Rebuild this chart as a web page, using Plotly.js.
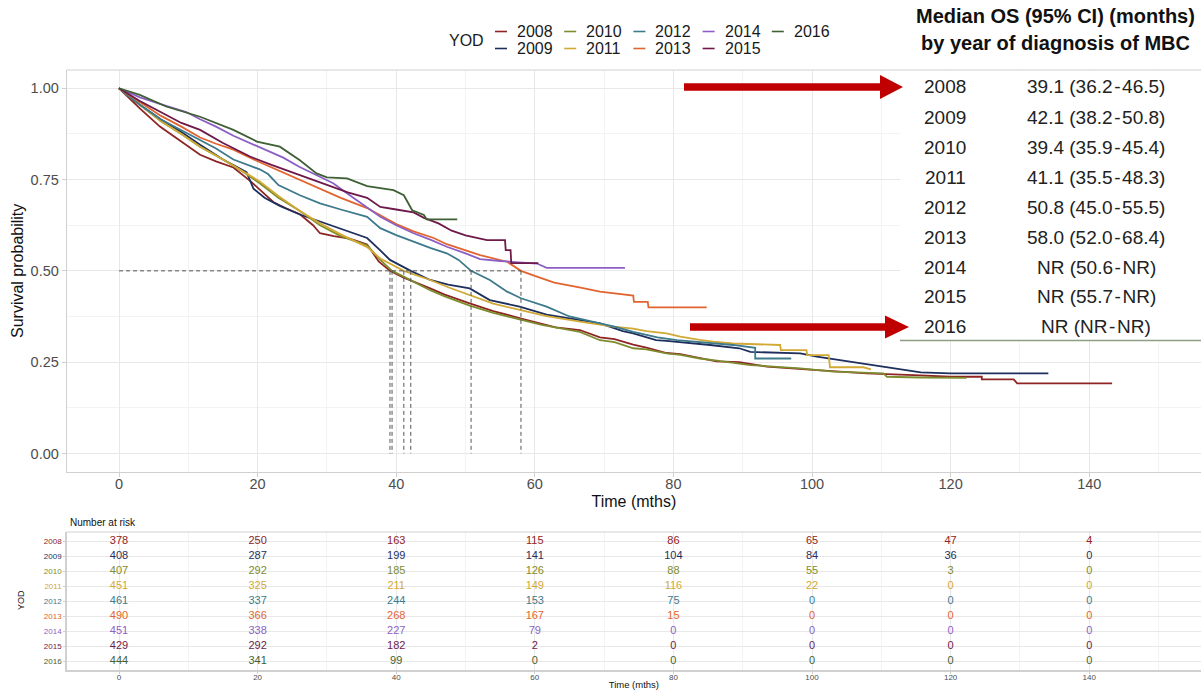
<!DOCTYPE html>
<html>
<head>
<meta charset="utf-8">
<script src="https://cdn.plot.ly/plotly-3.0.1.min.js"></script>
<style>
  html, body { margin: 0; padding: 0; background: #fff; overflow: hidden; }
  #chart { width: 1201px; height: 690px; }
</style>
</head>
<body>
<div id="chart"></div>
<script>
// ---- Kaplan-Meier overall survival by year of diagnosis (YOD) ----
const years = ['2008', '2009', '2010', '2011', '2012', '2013', '2014', '2015', '2016'];
const colors = ['#8e2424', '#1e2f5e', '#7d8c2c', '#d2a935', '#3d7a8c', '#e2652f', '#8c5fc4', '#6d1a4b', '#3f6034'];

// survival curves: time (months) and survival probability
const t2008 = [0, 3, 5.9, 8.5, 11.7, 14, 16.5, 19, 20.3, 22.3, 24, 26.1, 28, 29, 31, 33.3, 35.8, 37.5, 39.1, 41, 44.9, 47, 50.6, 54, 57.9, 60.7, 63, 66.5, 69.4, 71.5, 74.2, 76.1, 79, 81, 86.2, 89.5, 93.5, 100.7, 107.9, 115.6, 119.9, 124.5, 124.5, 129.1, 129.6, 143.3];
const s2008 = [1, 0.945, 0.895, 0.86, 0.818, 0.8, 0.783, 0.745, 0.722, 0.688, 0.672, 0.655, 0.625, 0.603, 0.595, 0.588, 0.572, 0.525, 0.5, 0.482, 0.452, 0.435, 0.411, 0.39, 0.37, 0.356, 0.345, 0.338, 0.318, 0.313, 0.298, 0.29, 0.275, 0.272, 0.252, 0.25, 0.238, 0.228, 0.219, 0.214, 0.21, 0.21, 0.203, 0.203, 0.192, 0.192];

const t2009 = [0, 3, 6, 9, 11.7, 15, 18.4, 19.4, 21, 23.2, 26, 28.5, 32, 35.8, 37.7, 39.1, 42.1, 44.9, 47.5, 50.6, 53.5, 57.8, 61.7, 65, 69.4, 72.7, 74.2, 77.5, 79, 85.3, 89.5, 91.1, 98.3, 100.7, 105.5, 110.3, 114.1, 115.7, 119.9, 134.1];
const s2009 = [1, 0.955, 0.915, 0.88, 0.845, 0.805, 0.77, 0.725, 0.7, 0.678, 0.655, 0.638, 0.615, 0.59, 0.556, 0.53, 0.5, 0.475, 0.462, 0.452, 0.42, 0.402, 0.38, 0.37, 0.356, 0.335, 0.329, 0.31, 0.308, 0.297, 0.288, 0.278, 0.274, 0.265, 0.251, 0.237, 0.228, 0.222, 0.219, 0.219];

const t2010 = [0, 3, 6, 9, 11.7, 15, 18, 20.3, 23, 26, 29, 32, 35.8, 37.7, 39.4, 41, 44.9, 47, 50.6, 54, 57.8, 61, 66.5, 69.4, 71.5, 74.2, 76.1, 79, 81, 83.8, 86, 91.1, 98.3, 103.1, 110.3, 110.8, 115.6, 122.3];
const s2010 = [1, 0.955, 0.91, 0.875, 0.84, 0.805, 0.77, 0.74, 0.7, 0.665, 0.625, 0.595, 0.57, 0.53, 0.5, 0.485, 0.447, 0.43, 0.405, 0.385, 0.366, 0.352, 0.333, 0.31, 0.305, 0.288, 0.285, 0.274, 0.27, 0.26, 0.255, 0.242, 0.233, 0.224, 0.219, 0.21, 0.208, 0.207];

const t2011 = [0, 3, 6, 9, 11.7, 15, 18, 20.3, 23, 26, 29, 32, 35.8, 37.7, 41.1, 44.9, 47.5, 50.6, 54, 57.8, 61.7, 66.5, 69.4, 71.3, 74.2, 76.1, 79, 81, 83.8, 85.7, 88.6, 95.4, 95.5, 99.2, 99.3, 102.4, 102.6, 107.4, 108.5];
const s2011 = [1, 0.955, 0.91, 0.875, 0.84, 0.805, 0.77, 0.745, 0.705, 0.665, 0.63, 0.6, 0.565, 0.534, 0.5, 0.475, 0.455, 0.434, 0.41, 0.393, 0.376, 0.361, 0.352, 0.347, 0.342, 0.335, 0.329, 0.32, 0.311, 0.306, 0.301, 0.297, 0.283, 0.283, 0.269, 0.269, 0.236, 0.236, 0.23];

const t2012 = [0, 3, 6, 9, 11.7, 14, 16.5, 18.5, 20.3, 21.5, 23, 26.1, 29, 32, 35.8, 37.7, 40, 42.5, 45, 47.3, 49, 50.8, 53.5, 56, 58, 61.7, 65, 69.4, 71.5, 74.2, 77.7, 80.5, 83.5, 88.6, 91.8, 91.8, 97];
const s2012 = [1, 0.955, 0.915, 0.885, 0.86, 0.835, 0.805, 0.79, 0.778, 0.765, 0.735, 0.707, 0.685, 0.668, 0.648, 0.617, 0.598, 0.58, 0.562, 0.548, 0.53, 0.5, 0.475, 0.443, 0.425, 0.402, 0.375, 0.356, 0.347, 0.333, 0.318, 0.31, 0.305, 0.297, 0.289, 0.26, 0.26];

const t2013 = [0, 3, 6, 9, 11.7, 14, 16.5, 20, 23, 26, 29, 32, 35.8, 38, 40, 42.5, 45.4, 47.3, 50, 52.1, 56, 58, 60, 62.8, 66.6, 69.4, 74.2, 74.3, 76.3, 76.4, 84.8];
const s2013 = [1, 0.962, 0.925, 0.895, 0.865, 0.848, 0.832, 0.8, 0.775, 0.75, 0.725, 0.7, 0.672, 0.648, 0.628, 0.608, 0.59, 0.573, 0.555, 0.543, 0.525, 0.5, 0.486, 0.468, 0.454, 0.443, 0.432, 0.415, 0.415, 0.4, 0.4];

const t2014 = [0, 3, 6.8, 9.7, 11.7, 14, 16.5, 20, 23.7, 26, 28.5, 30.9, 33.8, 36.7, 37.7, 40, 42.5, 45, 47.3, 50, 52.1, 55, 56.4, 60.3, 61.7, 73];
const s2014 = [1, 0.975, 0.952, 0.935, 0.915, 0.895, 0.87, 0.84, 0.81, 0.785, 0.762, 0.74, 0.7, 0.66, 0.648, 0.625, 0.603, 0.585, 0.566, 0.548, 0.532, 0.527, 0.525, 0.52, 0.508, 0.508];

const t2015 = [0, 3, 6, 9, 11.7, 15, 18.9, 22, 26.1, 28.5, 30.9, 33, 35.8, 37.7, 40, 42.5, 44, 46.1, 48, 50, 53.1, 55.7, 55.8, 56.5, 56.6, 60.5];
const s2015 = [1, 0.965, 0.935, 0.905, 0.886, 0.85, 0.813, 0.79, 0.762, 0.745, 0.73, 0.715, 0.7, 0.675, 0.668, 0.66, 0.645, 0.63, 0.61, 0.597, 0.584, 0.584, 0.557, 0.557, 0.521, 0.521];

const t2016 = [0, 3, 6.8, 11.7, 16.5, 19.9, 23.2, 26.1, 28.5, 30, 32.9, 35.8, 39.6, 41.1, 42.3, 44, 44.4, 48.8];
const s2016 = [1, 0.982, 0.95, 0.922, 0.886, 0.854, 0.84, 0.803, 0.767, 0.756, 0.753, 0.732, 0.721, 0.707, 0.666, 0.653, 0.641, 0.641];

const curveTimes = [t2008, t2009, t2010, t2011, t2012, t2013, t2014, t2015, t2016];
const curveSurv = [s2008, s2009, s2010, s2011, s2012, s2013, s2014, s2015, s2016];

// median OS (95% CI) in months; null = not reached
const medianOS = [39.1, 42.1, 39.4, 41.1, 50.8, 58.0, null, null, null];
const ciLower = [36.2, 38.2, 35.9, 35.5, 45.0, 52.0, 50.6, 55.7, null];
const ciUpper = [46.5, 50.8, 45.4, 48.3, 55.5, 68.4, null, null, null];

// number at risk
const riskTimes = [0, 20, 40, 60, 80, 100, 120, 140];
const risk2008 = [378, 250, 163, 115, 86, 65, 47, 4];
const risk2009 = [408, 287, 199, 141, 104, 84, 36, 0];
const risk2010 = [407, 292, 185, 126, 88, 55, 3, 0];
const risk2011 = [451, 325, 211, 149, 116, 22, 0, 0];
const risk2012 = [461, 337, 244, 153, 75, 0, 0, 0];
const risk2013 = [490, 366, 268, 167, 15, 0, 0, 0];
const risk2014 = [451, 338, 227, 79, 0, 0, 0, 0];
const risk2015 = [429, 292, 182, 2, 0, 0, 0, 0];
const risk2016 = [444, 341, 99, 0, 0, 0, 0, 0];
const riskCounts = [risk2008, risk2009, risk2010, risk2011, risk2012, risk2013, risk2014, risk2015, risk2016];

// ---- page geometry (pixels) ----
const W = 1201, H = 690;
const fx = x => x / W;          // pixel x -> paper
const fy = y => 1 - y / H;      // pixel y -> paper
const FONT = 'Liberation Sans, Arial, Helvetica, sans-serif';
const panelLeft = 66.7;
const mainTop = 70, mainBottom = 471.7;
const riskTop = 532, riskBottom = 670;
const xRange = [-7.55, -7.55 + (W - panelLeft) / 6.93];

const traces = [];

// survival curves
years.forEach((yr, i) => {
  traces.push({
    type: 'scatter', mode: 'lines', name: yr,
    x: curveTimes[i], y: curveSurv[i],
    line: { color: colors[i], width: 1.8 },
    xaxis: 'x', yaxis: 'y', hoverinfo: 'skip', showlegend: false
  });
});

// median reference lines
const reached = medianOS.filter(v => v !== null);
const medX = [0, Math.max(...reached), null];
const medY = [0.5, 0.5, null];
reached.forEach(m => { medX.push(m, m, null); medY.push(0.5, 0, null); });
traces.push({
  type: 'scatter', mode: 'lines', x: medX, y: medY,
  line: { color: '#555555', width: 1, dash: '4px,3px' },
  xaxis: 'x', yaxis: 'y', hoverinfo: 'skip', showlegend: false
});

// number-at-risk table
years.forEach((yr, i) => {
  traces.push({
    type: 'scatter', mode: 'text',
    x: riskTimes, y: riskTimes.map(() => yr),
    text: riskCounts[i].map(String),
    textposition: 'middle center',
    textfont: { family: FONT, size: 11, color: colors[i] },
    xaxis: 'x2', yaxis: 'y2', hoverinfo: 'skip', showlegend: false
  });
});

// ---- shapes ----
const shapes = [];
// panel top borders
[mainTop, riskTop].forEach(y => shapes.push({
  type: 'line', xref: 'paper', yref: 'paper', x0: fx(panelLeft), x1: 1, y0: fy(y), y1: fy(y),
  line: { color: '#d0d0d0', width: 1 }
}));
// white backing for the median table
shapes.push({
  type: 'rect', xref: 'paper', yref: 'paper', x0: fx(900), x1: 1, y0: fy(340.5), y1: fy(71),
  fillcolor: '#ffffff', line: { width: 0 }, layer: 'above'
});
shapes.push({
  type: 'line', xref: 'paper', yref: 'paper', x0: fx(900), x1: 1, y0: fy(340.5), y1: fy(340.5),
  line: { color: '#8c9f84', width: 1.5 }, layer: 'above'
});
// red arrows pointing at the table rows
function arrowPath(x0, xh, x1, yc, shaft, head) {
  const p = [[x0, yc - shaft / 2], [xh, yc - shaft / 2], [xh, yc - head / 2], [x1, yc],
             [xh, yc + head / 2], [xh, yc + shaft / 2], [x0, yc + shaft / 2]];
  return 'M' + p.map(q => fx(q[0]).toFixed(5) + ',' + fy(q[1]).toFixed(5)).join(' L') + ' Z';
}
shapes.push({ type: 'path', xref: 'paper', yref: 'paper', path: arrowPath(684, 880, 903, 87, 7.5, 24),
  fillcolor: '#c00000', line: { width: 0 }, layer: 'above' });
shapes.push({ type: 'path', xref: 'paper', yref: 'paper', path: arrowPath(690, 885, 909, 327, 7.5, 23),
  fillcolor: '#c00000', line: { width: 0 }, layer: 'above' });

// legend swatches (two rows, filled column by column)
const legX0 = 495, legColStep = 69.2, legRowY = [31.5, 48.5];
const annotations = [];
years.forEach((yr, i) => {
  const col = Math.floor(i / 2), row = i % 2;
  const sx = legX0 + col * legColStep;
  shapes.push({ type: 'line', xref: 'paper', yref: 'paper', x0: fx(sx), x1: fx(sx + 12),
    y0: fy(legRowY[row]), y1: fy(legRowY[row]), line: { color: colors[i], width: 1.6 } });
  annotations.push({ xref: 'paper', yref: 'paper', x: fx(sx + 20), y: fy(legRowY[row]),
    xanchor: 'left', yanchor: 'middle', showarrow: false, text: yr,
    font: { family: FONT, size: 16, color: '#1a1a1a' } });
});
annotations.push({ xref: 'paper', yref: 'paper', x: fx(466), y: fy(40), xanchor: 'center', yanchor: 'middle',
  showarrow: false, text: 'YOD', font: { family: FONT, size: 16, color: '#1a1a1a' } });

// median OS table
annotations.push({ xref: 'paper', yref: 'paper', x: fx(1055), y: fy(16.5), xanchor: 'center', yanchor: 'middle',
  showarrow: false, text: '<b>Median OS (95% CI) (months)</b>', font: { family: FONT, size: 20, color: '#111' } });
annotations.push({ xref: 'paper', yref: 'paper', x: fx(1055), y: fy(43), xanchor: 'center', yanchor: 'middle',
  showarrow: false, text: '<b>by year of diagnosis of MBC</b>', font: { family: FONT, size: 20, color: '#111' } });
const fmt = v => (v === null ? 'NR' : v.toFixed(1));
years.forEach((yr, i) => {
  const y = 87 + 30 * i;
  annotations.push({ xref: 'paper', yref: 'paper', x: fx(945), y: fy(y), xanchor: 'center', yanchor: 'middle',
    showarrow: false, text: yr, font: { family: FONT, size: 19, color: '#222' } });
  annotations.push({ xref: 'paper', yref: 'paper', x: fx(1096), y: fy(y), xanchor: 'center', yanchor: 'middle',
    showarrow: false,
    text: fmt(medianOS[i]) + ' (' + fmt(ciLower[i]) + '\u200A-\u200A' + fmt(ciUpper[i]) + ')',
    font: { family: FONT, size: 19, color: '#222' } });
});

// risk table captions
annotations.push({ xref: 'paper', yref: 'paper', x: fx(68), y: fy(522), xanchor: 'left', yanchor: 'middle',
  showarrow: false, text: 'Number at risk', font: { family: FONT, size: 10, color: '#111' } });
annotations.push({ xref: 'paper', yref: 'paper', x: fx(21), y: fy(600), xanchor: 'center', yanchor: 'middle',
  showarrow: false, text: 'YOD', textangle: -90, font: { family: FONT, size: 9, color: '#111' } });

const gridMajor = '#e8e8e8', gridMinor = '#f3f3f3', axisLine = '#d0d0d0';

const layout = {
  width: W, height: H,
  margin: { l: 0, r: 0, t: 0, b: 0 },
  paper_bgcolor: '#ffffff', plot_bgcolor: '#ffffff',
  showlegend: false, hovermode: false,
  font: { family: FONT, color: '#4d4d4d' },
  xaxis: {
    domain: [fx(panelLeft), 1], range: xRange, anchor: 'y',
    tick0: 0, dtick: 20, showgrid: true, gridcolor: gridMajor, gridwidth: 1,
    minor: { dtick: 10, showgrid: true, gridcolor: gridMinor, ticklen: 0 },
    zeroline: false, showline: true, linecolor: axisLine, linewidth: 1,
    ticks: 'outside', ticklen: 4, tickcolor: axisLine, ticklabelstandoff: -5,
    tickfont: { family: FONT, size: 14.5, color: '#4d4d4d' },
    title: { text: 'Time (mths)', standoff: 4, font: { family: FONT, size: 16, color: '#111' } }
  },
  yaxis: {
    domain: [fy(mainBottom), fy(mainTop)], range: [-0.05, 1.05], anchor: 'x',
    tickvals: [0, 0.25, 0.5, 0.75, 1], tickformat: '.2f',
    showgrid: true, gridcolor: gridMajor, gridwidth: 1,
    minor: { tick0: 0, dtick: 0.125, showgrid: true, gridcolor: gridMinor, ticklen: 0 },
    zeroline: false, showline: true, linecolor: axisLine, linewidth: 1,
    ticks: 'outside', ticklen: 4, tickcolor: axisLine,
    tickfont: { family: FONT, size: 14.5, color: '#4d4d4d' },
    title: { text: 'Survival probability', standoff: 2, font: { family: FONT, size: 16, color: '#111' } }
  },
  xaxis2: {
    domain: [fx(panelLeft), 1], range: xRange, anchor: 'y2',
    tick0: 0, dtick: 20, showgrid: true, gridcolor: gridMajor,
    minor: { dtick: 10, showgrid: true, gridcolor: gridMinor, ticklen: 0 },
    zeroline: false, showline: true, linecolor: axisLine, linewidth: 1.5,
    ticks: 'outside', ticklen: 2, tickcolor: axisLine, ticklabelstandoff: -3,
    tickfont: { family: FONT, size: 8, color: '#4d4d4d' },
    title: { text: 'Time (mths)', standoff: 4, font: { family: FONT, size: 9.5, color: '#111' } }
  },
  yaxis2: {
    domain: [fy(riskBottom), fy(riskTop)], anchor: 'x2',
    type: 'category', categoryorder: 'array', categoryarray: years,
    range: [years.length - 0.4, -0.6],
    tickvals: years,
    ticktext: years.map((yr, i) => '<span style="color:' + colors[i] + '">' + yr + '</span>'),
    showgrid: true, gridcolor: gridMajor, zeroline: false,
    showline: true, linecolor: axisLine, linewidth: 1.5,
    ticks: 'outside', ticklen: 2, tickcolor: axisLine,
    tickfont: { family: FONT, size: 8 }
  },
  shapes: shapes,
  annotations: annotations
};

Plotly.newPlot('chart', traces, layout, { displayModeBar: false, staticPlot: true });
</script>
</body>
</html>
